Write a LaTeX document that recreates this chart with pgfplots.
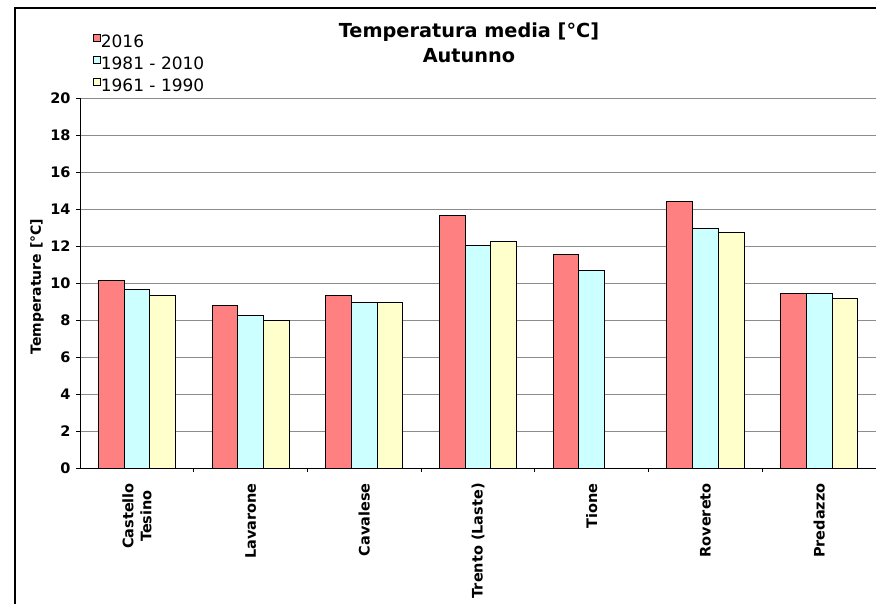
\documentclass[border=0pt]{standalone}
\usepackage{pgfplots}
\pgfplotsset{compat=1.18}
\usepackage{fontspec}
\setmainfont{DejaVu Sans}
\definecolor{cRed}{HTML}{FF8080}
\definecolor{cCyan}{HTML}{CCFFFF}
\definecolor{cYel}{HTML}{FFFFCC}
\definecolor{gridc}{HTML}{8C8C8C}
\begin{document}
\begin{tikzpicture}
\useasboundingbox (0,0) rectangle (876pt,603pt);
\fill[white] (0,0) rectangle (876pt,603pt);
\draw[line width=2pt] (15pt,-2pt) -- (15pt,595pt) -- (878pt,595pt);
\begin{axis}[
  at={(80pt,135pt)}, anchor=south west,
  scale only axis, width=796pt, height=370pt,
  xmin=-0.5, xmax=6.5, ymin=0, ymax=20,
  ybar=0pt, bar width=25.7pt,
  axis x line*=bottom, axis y line*=left,
  axis line style={-, line width=0.8pt, black},
  tick align=outside, major tick length=4pt,
  tick style={black, line width=0.8pt},
  xtick={0.5,1.5,2.5,3.5,4.5,5.5}, xticklabels={},
  extra x ticks={0,1,2,3,4,5,6},
  extra x tick labels={{Castello\\Tesino},Lavarone,Cavalese,{Trento (Laste)},Tione,Rovereto,Predazzo},
  extra x tick style={major tick length=0pt, grid=none,
    xticklabel style={rotate=90, anchor=east, align=center, inner sep=0pt,
      font=\fontsize{14.5}{18}\selectfont\bfseries, xshift=-15pt}},
  ytick={0,2,...,20},
  /pgf/number format/assume math mode=true,
  yticklabel style={font=\fontsize{14.5}{16}\selectfont\bfseries, xshift=-2pt},
  ymajorgrids=true, grid style={gridc, line width=0.8pt},
  ylabel={Temperature [°C]},
  ylabel style={at={(axis description cs:-0.054,0.49)}, anchor=center,
    font=\fontsize{14}{16}\selectfont\bfseries},
  title={Temperatura media [°C]\\Autunno},
  title style={at={(axis description cs:0.4887,1)}, anchor=north, yshift=69pt,
    align=center, inner sep=0pt, font=\fontsize{19.3}{25}\selectfont\bfseries},
  legend style={at={(axis description cs:0.0125,1.18)}, anchor=north west,
    draw=none, fill=none, font=\fontsize{17}{20}\selectfont,
    row sep=4.2pt, nodes={inner sep=0pt, text height=13pt, text depth=4pt},
    /tikz/every odd column/.append style={column sep=0pt}},
  legend cell align=left,
  legend image code/.code={\draw[#1, line width=0.7pt] (0pt,2pt) rectangle (7pt,9pt);},
]
\addplot[fill=cRed, draw=black, line width=0.9pt] coordinates {(0,10.13) (1,8.78) (2,9.34) (3,13.65) (4,11.53) (5,14.41) (6,9.42)};
\addplot[fill=cCyan, draw=black, line width=0.9pt] coordinates {(0,9.63) (1,8.22) (2,8.93) (3,12.01) (4,10.70) (5,12.93) (6,9.42)};
\addplot[fill=cYel, draw=black, line width=0.9pt] coordinates {(0,9.34) (1,8.00) (2,8.93) (3,12.25) (5,12.73) (6,9.14)};
\legend{2016,1981 - 2010,1961 - 1990}
\end{axis}
\end{tikzpicture}
\end{document}
